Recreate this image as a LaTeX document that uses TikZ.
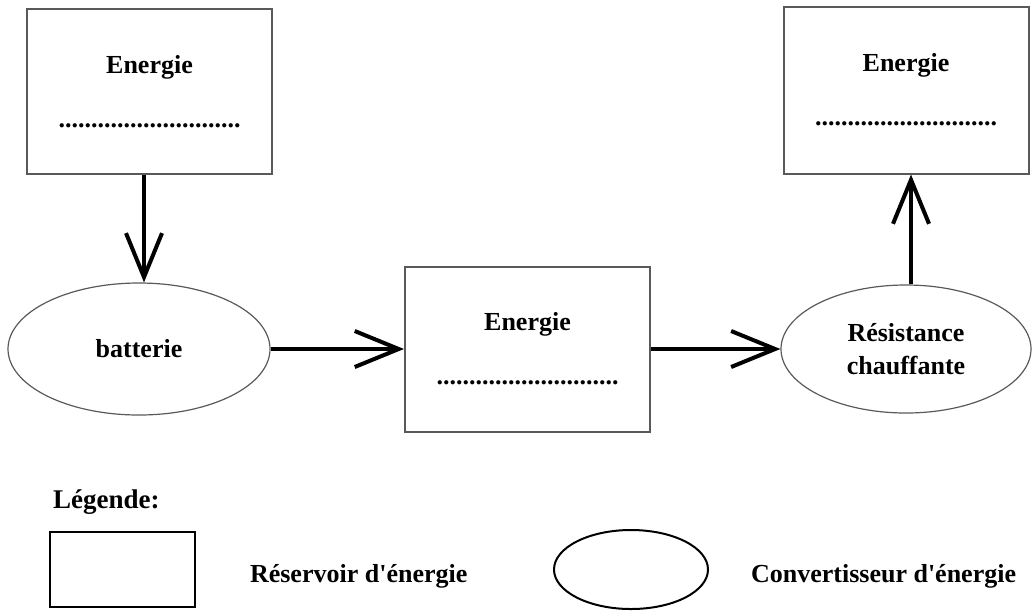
\documentclass[tikz,border=0pt]{standalone}
\usepackage{fontspec}
\setmainfont{Liberation Serif}
\usetikzlibrary{shapes.geometric,arrows.meta}
\tikzset{
	reservoir/.style={draw=black!65, line width=1pt, minimum width=122.5pt, minimum height=82.5pt, align=center, inner sep=0pt, font=\bfseries\fontsize{13}{27}\selectfont},
	convertisseur/.style={ellipse, draw=black!65, line width=0.6pt, align=center, inner sep=0pt, font=\bfseries\fontsize{13}{16.5}\selectfont},
	fleche/.style={line width=2pt, -{Straight Barb[length=22pt,width=18pt,line width=2pt]}},
	legende/.style={anchor=west, font=\bfseries\fontsize{13}{15}\selectfont}
}
\begin{document}
\begin{tikzpicture}[x=0.5pt,y=-0.5pt]
	\useasboundingbox (0,0) rectangle (1032,612);
	% chaine energetique
	\node[reservoir] (res1) at (149.5, 91.5) {Energie\\............................};
	\node[convertisseur, minimum width=131pt, minimum height=66pt] (bat) at (139, 349) {batterie};
	\node[reservoir] (res2) at (527.5, 349) {Energie\\............................};
	\node[convertisseur, minimum width=125pt, minimum height=64pt] (chauf) at (906, 349) {Résistance\\chauffante};
	\node[reservoir, minimum height=83.5pt] (res3) at (906, 90) {Energie\\............................};
	\draw[fleche] ([xshift=2.5pt]res1.south -| bat.north) -- ([xshift=2.5pt]bat.north);
	\draw[fleche] (bat) -- (res2);
	\draw[fleche] (res2) -- (chauf);
	\draw[fleche] ([xshift=2.5pt]chauf.north) -- ([xshift=2.5pt]chauf.north |- res3.south);
	% legende
	\node[legende, font=\bfseries\fontsize{13.5}{15}\selectfont] (leg) at (46, 502) {Légende:};
	\node[draw, line width=1pt, minimum width=72.5pt, minimum height=37.5pt] (legres) at (122.5, 569.5) {};
	\node[legende] (txtres) at (243, 576) {Réservoir d\textquotesingle énergie};
	\node[draw, ellipse, line width=1pt, minimum width=77pt, minimum height=39.5pt] (legconv) at (631, 569.5) {};
	\node[legende] (txtconv) at (744, 576) {Convertisseur d\textquotesingle énergie};
\end{tikzpicture}
\end{document}
